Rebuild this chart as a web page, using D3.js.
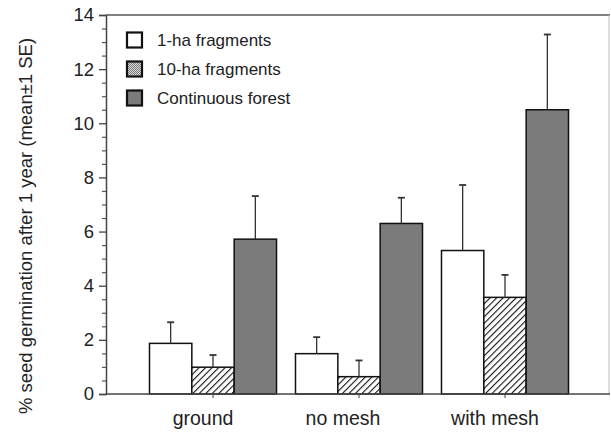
<!DOCTYPE html>
<html>
<head>
<meta charset="utf-8">
<title>Seed germination</title>
<script src="https://d3js.org/d3.v7.min.js"></script>
<style>
  body { margin: 0; background: #fff; }
  text { font-family: Arial, "Liberation Sans", sans-serif; fill: #222; }
</style>
</head>
<body>
<svg id="chart" width="611" height="438"></svg>
<script>
// data
var groups = ["ground", "no mesh", "with mesh"];
var series = ["1-ha fragments", "10-ha fragments", "Continuous forest"];
var means = [
  [1.87, 0.99, 5.72],
  [1.49, 0.64, 6.30],
  [5.30, 3.57, 10.5]
];
var upper = [
  [2.65, 1.44, 7.31],
  [2.10, 1.24, 7.25],
  [7.72, 4.40, 13.28]
];
var yTicks = [0, 2, 4, 6, 8, 10, 12, 14];

var svg = d3.select("#chart");

var defs = svg.append("defs");
var hatch = defs.append("pattern")
    .attr("id", "hatch")
    .attr("patternUnits", "userSpaceOnUse")
    .attr("width", 4.6).attr("height", 4.6)
    .attr("patternTransform", "rotate(45)");
hatch.append("rect").attr("width", 4.6).attr("height", 4.6).attr("fill", "#fff");
hatch.append("line").attr("x1", 0).attr("y1", 0).attr("x2", 0).attr("y2", 4.6)
    .attr("stroke", "#111").attr("stroke-width", 2.2);

var fine = defs.append("pattern")
    .attr("id", "fine")
    .attr("patternUnits", "userSpaceOnUse")
    .attr("width", 2).attr("height", 2);
fine.append("rect").attr("width", 2).attr("height", 2).attr("fill", "#ddd");
fine.append("rect").attr("width", 1).attr("height", 1).attr("fill", "#777");
fine.append("rect").attr("x", 1).attr("y", 1).attr("width", 1).attr("height", 1).attr("fill", "#777");

var fills = ["#fff", "url(#hatch)", "#7b7b7b"];
var legendFills = ["#fff", "url(#fine)", "#7b7b7b"];

var pLeft = 106, pRight = 610, pTop = 15, pBottom = 394;

var y = d3.scaleLinear().domain([0, 14]).range([pBottom, pTop]);

var x = d3.scaleBand().domain(groups)
    .range([140, 578])
    .paddingInner(0.13)
    .paddingOuter(0.065);

var xs = d3.scaleBand().domain(d3.range(series.length))
    .range([0, x.bandwidth()]);

// frame: top and right
svg.append("line").attr("x1", pLeft).attr("x2", pRight).attr("y1", pTop).attr("y2", pTop)
    .attr("stroke", "#555").attr("stroke-width", 1.5);
svg.append("line").attr("x1", pRight - 1).attr("x2", pRight - 1).attr("y1", pTop).attr("y2", pBottom)
    .attr("stroke", "#bbb").attr("stroke-width", 1);

// bars
var g = svg.append("g");
groups.forEach(function(grp, i) {
  series.forEach(function(s, j) {
    var bx = x(grp) + xs(j);
    g.append("rect")
      .attr("x", bx)
      .attr("y", y(means[i][j]))
      .attr("width", xs.bandwidth())
      .attr("height", y(0) - y(means[i][j]))
      .attr("fill", fills[j])
      .attr("stroke", "#111")
      .attr("stroke-width", 1.5);
    var cx = bx + xs.bandwidth() / 2;
    g.append("line")
      .attr("x1", cx).attr("x2", cx)
      .attr("y1", y(means[i][j])).attr("y2", y(upper[i][j]))
      .attr("stroke", "#333").attr("stroke-width", 1.3);
    g.append("line")
      .attr("x1", cx - 3.5).attr("x2", cx + 3.5)
      .attr("y1", y(upper[i][j])).attr("y2", y(upper[i][j]))
      .attr("stroke", "#333").attr("stroke-width", 1.8);
  });
});

// y axis
var yAxis = svg.append("g").attr("transform", "translate(" + pLeft + ",0)")
    .call(d3.axisLeft(y).tickValues(yTicks).tickSize(7).tickPadding(5));
yAxis.select(".domain").attr("stroke", "#444").attr("stroke-width", 1.5);
yAxis.selectAll(".tick line").attr("stroke", "#444").attr("stroke-width", 1.3);
yAxis.selectAll("text").style("font-size", "18.5px").attr("fill", "#222")
    .style("font-family", "Arial, 'Liberation Sans', sans-serif");

var yMinor = svg.append("g").attr("transform", "translate(" + pLeft + ",0)")
    .call(d3.axisLeft(y).tickValues(d3.range(0, 14.01, 0.5).filter(function(v) { return v % 2 !== 0; }))
      .tickSize(4).tickFormat(""));
yMinor.select(".domain").remove();
yMinor.selectAll(".tick line").attr("stroke", "#555").attr("stroke-width", 1.2);

// x axis
var xAxis = svg.append("g").attr("transform", "translate(0," + pBottom + ")")
    .call(d3.axisBottom(x).tickSize(4).tickPadding(13).tickSizeOuter(0));
xAxis.select(".domain").attr("d", "M" + pLeft + ",0H" + pRight)
    .attr("stroke", "#444").attr("stroke-width", 1.5);
xAxis.selectAll(".tick line").attr("stroke", "#444");
xAxis.selectAll("text").style("font-size", "19.5px").attr("fill", "#222")
    .attr("dx", function(d, i) { return i === 1 ? -16 : -10; })
    .style("font-family", "Arial, 'Liberation Sans', sans-serif");

// y label
svg.append("text")
    .attr("transform", "translate(32,226) rotate(-90)")
    .attr("text-anchor", "middle")
    .style("font-size", "18.5px")
    .text("% seed germination after 1 year (mean\u00b11 SE)");

// legend
var legend = svg.append("g");
series.forEach(function(s, j) {
  var ly = 40 + j * 29;
  legend.append("rect")
    .attr("x", 127).attr("y", ly - 7.5)
    .attr("width", 15).attr("height", 15)
    .attr("fill", legendFills[j])
    .attr("stroke", "#111").attr("stroke-width", 2.2);
  legend.append("text")
    .attr("x", 157).attr("y", ly + 6)
    .style("font-size", "17px")
    .text(s);
});
</script>
</body>
</html>
